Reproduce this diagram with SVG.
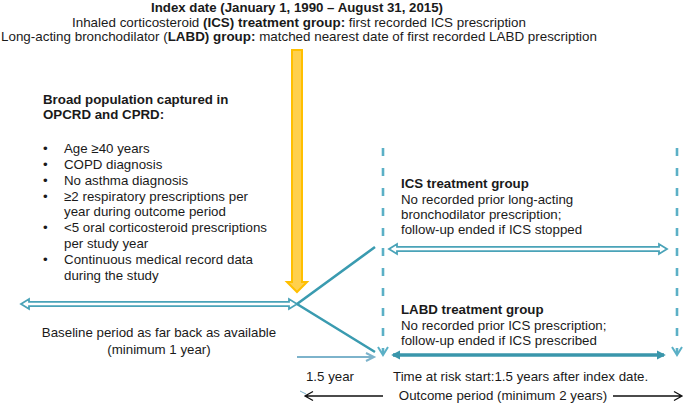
<svg xmlns="http://www.w3.org/2000/svg" width="685" height="406" viewBox="0 0 685 406">
<style>
text{font-family:"Liberation Sans",Arial,sans-serif;font-size:13.3px;fill:#1a1a1a}
.b{font-weight:bold}
.hollow{fill:#fff;stroke:#4aa3b8;stroke-width:1.8;stroke-linejoin:miter}
.branch{stroke:#3a9bb0;stroke-width:2.6;fill:none}
.dash{stroke:#5bb0c6;stroke-width:2.6;stroke-dasharray:8 12;fill:none}
.dhead{stroke:#5bb0c6;stroke-width:2;fill:none}
</style>
<defs>
<marker id="solidHead" viewBox="0 0 10 10" refX="8" refY="5" markerWidth="2.6" markerHeight="2.6" orient="auto-start-reverse">
<path d="M0,0 L10,5 L0,10 Z" fill="#3a96ab"/>
</marker>
</defs>
<g id="title">
<text x="151" y="12" class="b" textLength="292" lengthAdjust="spacingAndGlyphs">Index date (January 1, 1990 – August 31, 2015)</text>
<text x="72" y="27" textLength="454" lengthAdjust="spacingAndGlyphs">Inhaled corticosteroid <tspan class="b">(ICS) treatment group:</tspan> first recorded ICS prescription</text>
<text x="1" y="41" textLength="596" lengthAdjust="spacingAndGlyphs">Long-acting bronchodilator (<tspan class="b">LABD) group:</tspan> matched nearest date of first recorded LABD prescription</text>
</g>
<g id="index-arrow">
<path d="M292,50 L302,50 L302,282 L307,282 L297,292 L287,282 L292,282 Z" fill="#ffd04d" stroke="#ffbf00" stroke-width="2" stroke-linejoin="miter"/>
</g>
<g id="population">
<text x="43" y="104" class="b">Broad population captured in</text>
<text x="43" y="119" class="b">OPCRD and CPRD:</text>
<text x="43" y="153">•</text><text x="64" y="153">Age ≥40 years</text>
<text x="43" y="169">•</text><text x="64" y="169">COPD diagnosis</text>
<text x="43" y="185">•</text><text x="64" y="185">No asthma diagnosis</text>
<text x="43" y="201">•</text><text x="64" y="201" textLength="184" lengthAdjust="spacing">≥2 respiratory prescriptions per</text>
<text x="64" y="216">year during outcome period</text>
<text x="43" y="232">•</text><text x="64" y="232" textLength="203" lengthAdjust="spacing">&lt;5 oral corticosteroid prescriptions</text>
<text x="64" y="248">per study year</text>
<text x="43" y="264">•</text><text x="64" y="264" textLength="189" lengthAdjust="spacing">Continuous medical record data</text>
<text x="64" y="280">during the study</text>
</g>
<g id="baseline">
<text x="159" y="337" text-anchor="middle">Baseline period as far back as available</text>
<text x="159" y="354" text-anchor="middle">(minimum 1 year)</text>
</g>
<g id="ics-group">
<text x="401" y="188" class="b">ICS treatment group</text>
<text x="401" y="204">No recorded prior long-acting</text>
<text x="401" y="219">bronchodilator prescription;</text>
<text x="401" y="234">follow-up ended if ICS stopped</text>
</g>
<g id="labd-group">
<text x="401" y="314" class="b">LABD treatment group</text>
<text x="401" y="330">No recorded prior ICS prescription;</text>
<text x="401" y="345">follow-up ended if ICS prescribed</text>
</g>
<g id="timing">
<text x="330" y="381" text-anchor="middle">1.5 year</text>
<text x="393" y="381">Time at risk start:1.5 years after index date.</text>
<text x="503" y="400" text-anchor="middle">Outcome period (minimum 2 years)</text>
</g>
<g id="connectors">
<path class="hollow" d="M21,304 L29,299 L29,301.8 L289,301.8 L289,299 L297,304 L289,309 L289,306.2 L29,306.2 L29,309 Z"/>
<path class="branch" d="M297,304 L375,247 M297,304 L375,352"/>
<path class="dash" d="M383,148 V352 M677,148 V352"/>
<path class="dhead" d="M378,347 L383,355 L388,347 M383,348 V356 M672,347 L677,355 L682,347 M677,348 V356"/>
<path class="hollow" d="M389,249 L397,244 L397,246.8 L659,246.8 L659,244 L667,249 L659,254 L659,251.2 L397,251.2 L397,254 Z"/>
<path d="M393,355 H664" stroke="#3a96ab" stroke-width="3.5" marker-start="url(#solidHead)" marker-end="url(#solidHead)"/>
<path d="M297,357 H374 M366,353 L374,357 L366,361" stroke="#7db3cb" stroke-width="2" fill="none"/>
<path d="M300,391 L306,394" stroke="#7db3cb" stroke-width="1" fill="none"/>
<path d="M305,396 H383 M613,396 H682 M313,391.5 L305,396 L313,400.5 M674,391.5 L682,396 L674,400.5" stroke="#111" stroke-width="1.3" fill="none"/>
</g>
</svg>
